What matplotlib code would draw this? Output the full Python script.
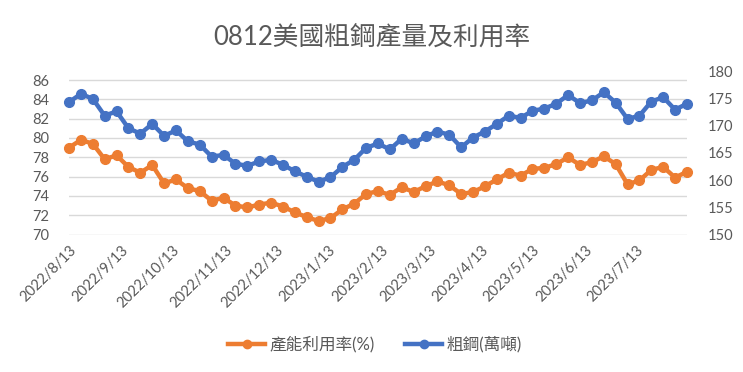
import numpy as np
import pandas as pd
import matplotlib
matplotlib.use('Agg')
import matplotlib.pyplot as plt
from matplotlib.lines import Line2D

plt.rcParams['font.family'] = ['Lato', 'Noto Sans CJK TC', 'DejaVu Sans']

# weekly data, 2022/8/13 .. 2023/8/12
weeks = pd.date_range('2022-08-13', periods=53, freq='7D')

# 產能利用率(%) - left axis
utilization = [79.0, 79.8, 79.4, 77.8, 78.2, 77.0, 76.4, 77.2, 75.3, 75.7,
               74.8, 74.5, 73.5, 73.8, 73.0, 72.8, 73.1, 73.3, 72.9, 72.3,
               71.8, 71.4, 71.7, 72.6, 73.2, 74.2, 74.5, 74.1, 74.9, 74.4,
               75.0, 75.5, 75.1, 74.2, 74.4, 75.0, 75.7, 76.4, 76.1, 76.8,
               76.9, 77.3, 78.0, 77.2, 77.5, 78.1, 77.3, 75.2, 75.6, 76.7,
               77.0, 75.9, 76.5]

# 粗鋼(萬噸) - right axis
steel = [174.3, 175.8, 174.9, 171.8, 172.6, 169.5, 168.5, 170.3, 168.1, 169.1,
         167.1, 166.5, 164.3, 164.6, 163.0, 162.6, 163.4, 163.7, 162.8, 161.6,
         160.6, 159.7, 160.5, 162.4, 163.7, 165.9, 166.7, 165.6, 167.6, 166.7,
         168.0, 168.9, 168.3, 166.0, 167.8, 168.9, 170.3, 171.8, 171.4, 172.7,
         173.1, 174.0, 175.6, 174.1, 174.6, 176.1, 174.2, 171.2, 171.8, 174.4,
         175.2, 172.9, 174.0]

tick_labels = ['2022/8/13', '2022/9/13', '2022/10/13', '2022/11/13', '2022/12/13',
               '2023/1/13', '2023/2/13', '2023/3/13', '2023/4/13', '2023/5/13',
               '2023/6/13', '2023/7/13']
tick_dates = pd.to_datetime(tick_labels, format='%Y/%m/%d')

orange = '#ED7D31'
blue = '#4472C4'
grey = '#595959'

fig = plt.figure(figsize=(7.43, 3.72), dpi=100)
ax = fig.add_axes([0.0929, 0.3696, 0.8317, 0.4395])
ax2 = ax.twinx()

ax.plot(weeks, utilization, color=orange, lw=3.2, marker='o', ms=7, zorder=3,
        clip_on=False)
ax2.plot(weeks, steel, color=blue, lw=3.2, marker='o', ms=7, zorder=3,
         clip_on=False)

ax.set_xlim(weeks[0], weeks[-1])
ax.set_ylim(70, 86.94)
ax.set_yticks(np.arange(70, 87, 2))
ax2.set_ylim(150, 180)
ax2.set_yticks(np.arange(150, 181, 5))

ax.grid(axis='y', color='#D9D9D9', lw=1)
ax.set_axisbelow(True)

ax.set_xticks(tick_dates)
ax.set_xticklabels(tick_labels, rotation=45, ha='right', va='top',
                   rotation_mode='anchor')

for a in (ax, ax2):
    for s in a.spines.values():
        s.set_visible(False)
    a.tick_params(length=0, labelsize=10.5, labelcolor=grey)
ax.tick_params(axis='y', pad=14)
ax2.tick_params(axis='y', pad=15)
ax.tick_params(axis='x', pad=6)

fig.suptitle('0812美國粗鋼產量及利用率', y=0.935, fontsize=18.5, color=grey)

handles = [Line2D([], [], color=orange, lw=3.2, marker='o', ms=6),
           Line2D([], [], color=blue, lw=3.2, marker='o', ms=6)]
fig.legend(handles, ['產能利用率(%)', '粗鋼(萬噸)'], loc='center',
           bbox_to_anchor=(0.505, 0.075), ncol=2, frameon=False,
           fontsize=12, labelcolor=grey, handlelength=2.2,
           handletextpad=0.3, columnspacing=1.8)

fig.savefig('out.png', dpi=100)
